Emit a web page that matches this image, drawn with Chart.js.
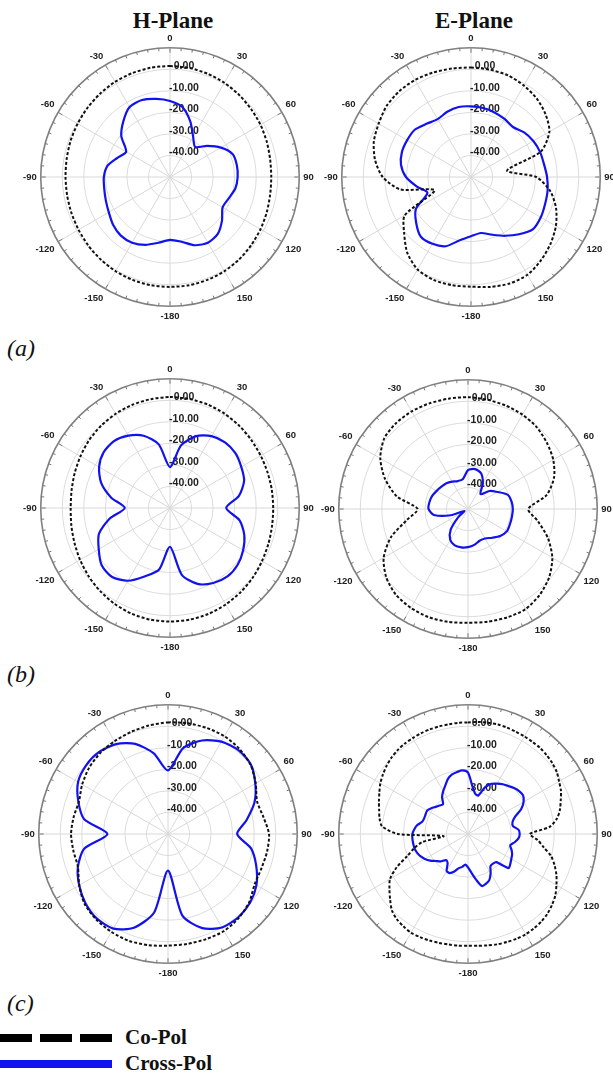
<!DOCTYPE html>
<html>
<head>
<meta charset="utf-8">
<script src="https://cdn.jsdelivr.net/npm/chart.js@4.4.1/dist/chart.umd.min.js"></script>
<style>
  html, body { margin: 0; padding: 0; background: #fff; }
  body { width: 613px; height: 1076px; position: relative; overflow: hidden; }
  canvas.plot { position: absolute; }
  .title { position: absolute; font: bold 23px "Liberation Serif", "Times New Roman", serif; line-height: 23px; transform: translateX(-50%); white-space: nowrap; color: #111; }
  .tag { position: absolute; font: italic 24px "Liberation Serif", "Times New Roman", serif; line-height: 24px; color: #111; }
  .legtxt { position: absolute; left: 125px; font: bold 21px "Liberation Serif", "Times New Roman", serif; line-height: 21px; color: #111; }
  .bar { position: absolute; left: 0; width: 112px; height: 8px; }
</style>
</head>
<body>
<div class="title" style="left:173px; top:9px">H-Plane</div>
<div class="title" style="left:474px; top:9px">E-Plane</div>
<div class="tag" style="left:7px; top:336px">(a)</div>
<div class="tag" style="left:7px; top:662px">(b)</div>
<div class="tag" style="left:7px; top:991px">(c)</div>

<canvas class="plot" id="aH" width="294" height="294"></canvas>
<canvas class="plot" id="aE" width="294" height="294"></canvas>
<canvas class="plot" id="bH" width="294" height="294"></canvas>
<canvas class="plot" id="bE" width="294" height="294"></canvas>
<canvas class="plot" id="cH" width="294" height="294"></canvas>
<canvas class="plot" id="cE" width="294" height="294"></canvas>

<div class="bar" style="top:1034px; background: repeating-linear-gradient(to right, #000 0 32px, transparent 32px 40px);"></div>
<div class="legtxt" style="top:1027px">Co-Pol</div>
<div class="bar" style="top:1060px; background:#1212ee;"></div>
<div class="legtxt" style="top:1053px">Cross-Pol</div>

<script>
// ---------- data (dB, angle measured clockwise from 0 at top) ----------
const angles10 = [0, 10, 20, 30, 40, 50, 60, 70, 80, 90, 100, 110, 120, 130, 140, 150, 160, 170,
  180, 190, 200, 210, 220, 230, 240, 250, 260, 270, 280, 290, 300, 310, 320, 330, 340, 350];
const angles5 = [0, 5, 10, 15, 20, 25, 30, 35, 40, 45, 50, 55, 60, 65, 70, 75, 80, 85,
  90, 95, 100, 105, 110, 115, 120, 125, 130, 135, 140, 145, 150, 155, 160, 165, 170, 175,
  180, 185, 190, 195, 200, 205, 210, 215, 220, 225, 230, 235, 240, 245, 250, 255, 260, 265,
  270, 275, 280, 285, 290, 295, 300, 305, 310, 315, 320, 325, 330, 335, 340, 345, 350, 355];
const ringTicks = [-40, -30, -20, -10, 0];

// (a) H-plane
const aH_co = [1.5, 1.4, 1.0, 0.5, -0.2, -0.9, -1.5, -2.2, -2.8, -3, -2.8, -2.2, -1.5, -0.8, -0.1, 0.5, 0.8, 1,
  1, 1, 0.8, 0.5, 0, -0.5, -1, -1.3, -1.5, -1.5, -1.3, -0.9, -0.5, 0, 0.5, 1, 1.3, 1.5];
const aH_cross = [-14.7, -17, -22.5, -28.5, -31.8, -27.5, -22.7, -19, -18.5, -18.6, -19.2, -21, -21.8, -18.5, -15.5, -14.8, -16.3, -19.5,
  -20.8, -19, -16.5, -14.8, -14.5, -15.5, -17.2, -18.3, -19, -19.3, -20.5, -24, -26.5, -20.5, -16.3, -12.5, -12, -13.2];
// (a) E-plane
const aE_co = [0.8, 0.6, 0.2, -1, -2.5, -4.8, -8, -15.5, -33, -19.7, -12.7, -8, -4.5, -1.8, 0.5, 2.4, 2.6, 1.8,
  0.9, 1.0, 0.8, -0.4, -4, -9.5, -14.5, -32, -16.7, -9, -4.8, -2, -0.5, 1.2, 1.9, 2.0, 1.6, 1.1];
const aE_cross = [-17.2, -17.5, -18.1, -18.9, -19.7, -17.8, -16.6, -15.9, -15.6, -14.7, -13.9, -13.4, -12.6, -12.4, -15.3, -18.5, -21.5, -23.6,
  -22.5, -20.2, -15.8, -14.2, -13.8, -16.8, -20.5, -28.5, -24.5, -19.8, -17, -15.9, -15.8, -15.9, -17.8, -19, -17.8, -17];
// (b) H-plane
const bH_co = [1.5, 1.4, 1.1, 0.6, -0.1, -0.8, -1.4, -1.8, -2.0, -2.1, -1.9, -1.4, -0.7, 0.2, 1.0, 1.7, 2.3, 2.6,
  2.7, 2.6, 2.2, 1.4, 0.4, -0.7, -1.8, -2.8, -3.5, -3.9, -3.6, -2.9, -2.0, -1.0, -0.2, 0.5, 1.0, 1.3];
const bH_cross = [-31, -20.5, -14.5, -11.5, -10.3, -10.4, -11.8, -13.4, -17.5, -23.9, -17.2, -13.3, -10.8, -9, -8.5, -9.8, -12.5, -18.5,
  -32, -21, -16.3, -11, -8.2, -8.6, -11.8, -14.9, -21.5, -29, -22.3, -16, -12, -9.8, -9.5, -11.2, -14.3, -20];
// (b) E-plane
const bE_co = [1.9, 1.5, 1.1, 0.6, -0.4, -2.2, -4.3, -7.5, -13, -22, -17, -10.5, -4.8, -0.8, 1.9, 3.6, 3.5, 3.1,
  2.8, 3.2, 3.4, 3.0, 2.0, -0.5, -4.8, -12, -21.3, -26.6, -16.5, -9, -3, 0.8, 2.0, 2.3, 2.2, 2];
const bE_cross = [-32, -31.2, -32.3, -36.2, -41, -37, -34.2, -30.5, -29.5, -29.2, -29.3, -29.3, -29.2, -30.5, -32.6, -34.2, -34.3, -33.1,
  -32.3, -31.9, -32, -33.5, -37.5, -44, -48, -41.5, -34, -31.7, -31.8, -32.3, -33.2, -33.9, -34.4, -35.3, -36.2, -36];
// (c) H-plane
const cH_co = [1.8, 2.2, 2.4, 2.4, 1.6, 0, -3, -6, -5, -3.1, -3.3, -3.8, -3.5, -0.8, 1, 2, 1.9, 1.8,
  1.8, 2.4, 2.8, 2.5, 1.8, 0.5, -2.4, -5.5, -5.4, -5, -5.5, -6, -4, -2.2, -1, -0.3, 0.4, 1.1];
const cH_cross = [-20.5, -9.5, -3.8, -0.5, 0.8, 0.2, -3.2, -7.3, -13, -17.9, -10.8, -6.4, -2.6, -0.3, 0.6, 0.1, -3.5, -11.5,
  -33, -13, -3.7, 0.7, 1.3, 0, -2.4, -5.5, -10.5, -21.9, -10.5, -5.7, -1.8, -0.4, -0.3, -1.8, -5.5, -12];
// (c) E-plane (5 degree steps)
const cE_co = [1.8, 2.2, 2.5, 2.7, 2.6, 2.4, 2.3, 2.2, 2.1, 1.7, 1.1, 0.3,
  -1.2, -2.4, -4.2, -5.8, -8, -12, -21.3, -17.5, -14.3, -10, -7.2, -4.7,
  -2.6, -0.5, 1, 2.2, 3, 3.4, 3.7, 3.6, 3.3, 3, 2.5, 2.1,
  1.9, 2, 2.1, 2.3, 2.6, 2.8, 2.9, 2.3, 1.5, 0, -2.8, -5.5,
  -8.2, -13.5, -20, -24, -28.5, -38.6, -17.5, -10, -8.3, -7.3, -6, -4.6,
  -3, -1.8, -0.7, 0.2, 0.8, 1.2, 1.4, 1.6, 1.7, 1.7, 1.7, 1.8];
const cE_cross = [-21.5, -27.5, -31, -31.5, -27, -24.3, -23, -21.8, -20.9, -19.8, -19, -18.8,
  -20.2, -22.8, -26.8, -28.6, -28.8, -26.5, -26, -26.5, -28, -29.7, -28.5, -27.4,
  -26.8, -26, -25.4, -31.5, -32, -31.8, -29, -26.5, -25.5, -25, -28.5, -32,
  -34.5, -35.7, -34.5, -33.6, -31.5, -30, -30.2, -33.5, -34.2, -32, -30.5, -28.5,
  -26.9, -25.6, -24.8, -24.3, -24.2, -24.1, -24.2, -25, -26.1, -28, -28.4, -28.3,
  -28.1, -29.2, -30.4, -31.3, -32, -29, -27, -25.1, -22.8, -21.4, -20.8, -20.4];

// ---------- layout ----------
const panels = [
  { id: 'aH', cx: 170, cy: 177, angles: angles10, co: aH_co, cross: aH_cross },
  { id: 'aE', cx: 471, cy: 177, angles: angles10, co: aE_co, cross: aE_cross },
  { id: 'bH', cx: 170, cy: 508, angles: angles10, co: bH_co, cross: bH_cross },
  { id: 'bE', cx: 468, cy: 509, angles: angles10, co: bE_co, cross: bE_cross },
  { id: 'cH', cx: 168, cy: 834, angles: angles10, co: cH_co, cross: cH_cross },
  { id: 'cE', cx: 468, cy: 834, angles: angles5, co: cE_co, cross: cE_cross }
];

function angleText(a) {
  if (a === 180) return '-180';
  return a > 180 ? String(a - 360) : String(a);
}

// outer ring ticks and the dB labels right of the 0 deg spoke
const polarDecor = {
  id: 'polarDecor',
  beforeDatasetsDraw(chart) {
    const r = chart.scales.r;
    const ctx = chart.ctx;
    const step = 360 / chart.data.labels.length;
    const outer = r.getDistanceFromCenterForValue(r.max);
    ctx.save();
    ctx.strokeStyle = '#777';
    ctx.lineWidth = 1;
    for (let a = 0; a < 360; a += 5) {
      const len = a % 30 === 0 ? 5 : 3;
      const p1 = r.getPointPosition(a / step, outer);
      const p2 = r.getPointPosition(a / step, outer - len);
      ctx.beginPath();
      ctx.moveTo(p1.x, p1.y);
      ctx.lineTo(p2.x, p2.y);
      ctx.stroke();
    }
    ctx.font = 'bold 10.5px "Liberation Sans", Arial, sans-serif';
    ctx.fillStyle = '#222';
    ctx.textAlign = 'center';
    ctx.textBaseline = 'middle';
    ringTicks.forEach(v => {
      const d = r.getDistanceFromCenterForValue(v);
      ctx.fillText(v.toFixed(2), r.xCenter + 14, r.yCenter - d - 3);
    });
    ctx.restore();
  }
};

panels.forEach(p => {
  const canvas = document.getElementById(p.id);
  canvas.style.left = (p.cx - 148) + 'px';
  canvas.style.top = (p.cy - 147) + 'px';

  new Chart(canvas, {
    type: 'radar',
    data: {
      labels: p.angles.map(angleText),
      datasets: [
        {
          label: 'Co-Pol',
          data: p.co,
          borderColor: '#111',
          borderWidth: 2,
          borderDash: [3, 2],
          pointRadius: 0,
          fill: false,
          tension: 0.25
        },
        {
          label: 'Cross-Pol',
          data: p.cross,
          borderColor: '#1212ee',
          borderWidth: 2.2,
          pointRadius: 0,
          fill: false,
          tension: 0.25
        }
      ]
    },
    options: {
      responsive: false,
      animation: false,
      events: [],
      plugins: {
        legend: { display: false },
        tooltip: { enabled: false }
      },
      scales: {
        r: {
          min: -50,
          max: 10,
          startAngle: 0,
          ticks: { display: false, stepSize: 10 },
          grid: {
            circular: true,
            color: ctx => ctx.tick.value === 10 ? '#808080' : (ctx.tick.value === -50 ? 'rgba(0,0,0,0)' : '#dcdcdc'),
            lineWidth: ctx => ctx.tick.value === 10 ? 1.6 : 1
          },
          angleLines: {
            color: '#d8d8d8',
            lineWidth: ctx => ctx.label === '' ? 0 : 1
          },
          pointLabels: {
            padding: 4,
            color: '#222',
            font: { size: 9.5, weight: 'bold', family: '"Liberation Sans", Arial, sans-serif' },
            callback: label => (Number(label) % 30 === 0 ? label : '')
          }
        }
      }
    },
    plugins: [polarDecor]
  });
});
</script>
</body>
</html>
